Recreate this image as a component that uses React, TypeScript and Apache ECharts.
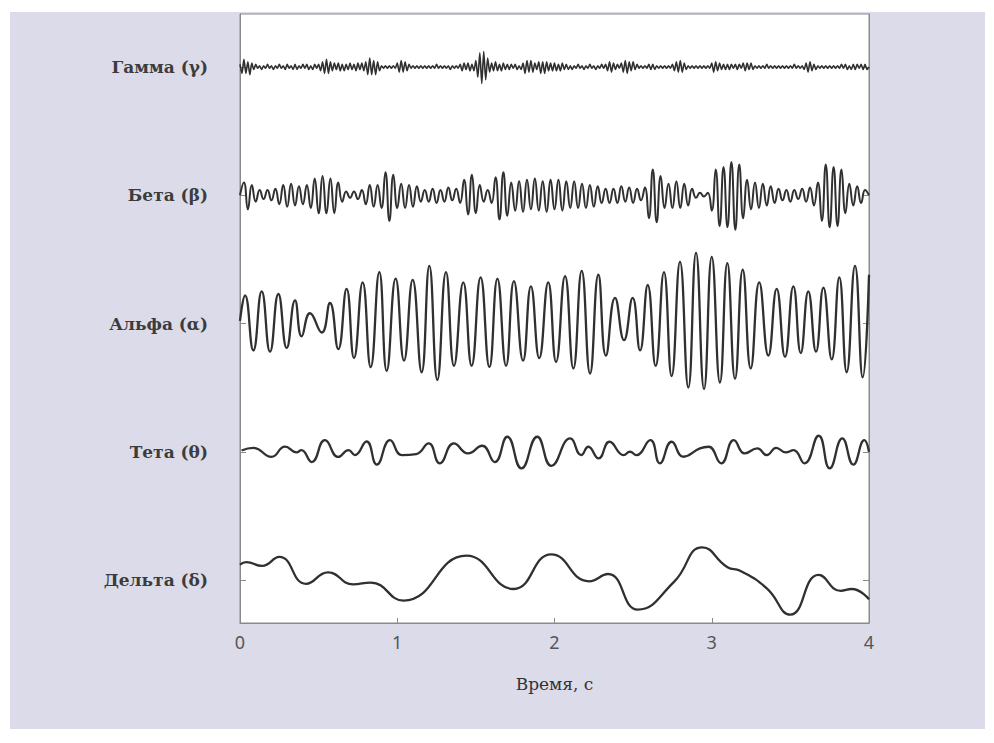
import React, { useEffect, useRef } from "react";
import * as echarts from "echarts";

// Band names (bottom → top), tick positions on the y axis
const BAND_LABELS = ["Дельта (δ)", "Тета (θ)", "Альфа (α)", "Бета (β)", "Гамма (γ)"];
const BAND_TICKS = [1, 2, 3, 4, 5];
const X_TICKS = [0, 1, 2, 3, 4];
const X_NAME = "Время, с";

// Amplitudes are in hundredths of the band spacing.
// Gamma: extrema sampled every 0.0125 s
const GAMMA_DT = 0.0125;
const GAMMA = [
  2, -5, 6, -5, 4, -6, 3, -2,
  2, -1, 1, -2, 1, -1, 2, -1,
  1, -2, 1, -1, 2, -1, 1, -2,
  2, -1, 1, -2, 2, -2, 1, -1,
  2, -1, 2, -2, 1, -2, 2, -1,
  2, -3, 4, -5, 6, -5, 4, -3,
  3, -2, 3, -3, 2, -3, 2, -2,
  3, -2, 2, -3, 3, -2, 3, -3,
  4, -6, 7, -6, 5, -6, 4, -3,
  1, -1, 1, -1, 1, -1, 1, -1,
  3, -4, 5, -4, 4, -3, 2, -1,
  1, -1, 1, -1, 1, -1, 1, -1,
  1, -1, 1, -1, 2, -1, 1, -1,
  1, -1, 1, -2, 1, -1, 1, -1,
  2, -3, 3, -2, 3, -3, 2, -3,
  5, -8, 11, -13, 12, -10, 7, -4,
  3, -3, 4, -3, 2, -3, 3, -2,
  2, -2, 2, -1, 2, -2, 1, -2,
  3, -5, 5, -4, 5, -4, 3, -2,
  4, -5, 4, -5, 4, -3, 3, -3,
  3, -3, 2, -3, 3, -2, 2, -2,
  1, -2, 1, -1, 2, -1, 1, -2,
  1, -1, 2, -1, 1, -2, 1, -1,
  2, -1, 2, -3, 4, -4, 3, -2,
  2, -1, 3, -4, 5, -5, 4, -3,
  4, -2, 2, -1, 1, -1, 1, -1,
  2, -2, 2, -2, 1, -1, 1, -1,
  1, -1, 1, -1, 2, -3, 4, -4,
  5, -4, 3, -2, 1, -1, 1, -1,
  1, -1, 1, -1, 1, -1, 1, -1,
  3, -4, 4, -3, 3, -2, 2, -2,
  2, -2, 2, -1, 2, -2, 2, -1,
  3, -3, 3, -2, 3, -2, 1, -1,
  1, -1, 1, -1, 2, -1, 1, -1,
  1, -1, 1, -1, 1, -1, 1, -1,
  1, -1, 2, -1, 1, -1, 1, -2,
  3, -4, 4, -3, 2, -2, 1, -1,
  1, -1, 1, -1, 1, -1, 1, -1,
  1, -1, 2, -1, 2, -2, 1, -2,
  2, -2, 2, -1, 2, -2, 2, -2,
  0,
];

// Beta: extrema sampled every 0.025 s
const BETA_DT = 0.025;
const BETA = [
  0, 10, -11, 8, -5, 4, -3, 4,
  -4, 5, -7, 8, -9, 9, -8, 7,
  -7, 8, -10, 13, -14, 15, -14, 13,
  -14, 10, -5, 3, -2, 3, -3, 4,
  -7, 8, -9, 8, -10, 18, -20, 16,
  -10, 9, -10, 8, -9, 7, -5, 4,
  -5, 5, -6, 4, -5, 6, -4, 5,
  -6, 12, -15, 16, -14, 8, -5, 4,
  -6, 14, -19, 18, -16, 10, -12, 11,
  -13, 12, -11, 13, -12, 11, -13, 12,
  -11, 12, -12, 11, -10, 11, -10, 9,
  -10, 8, -9, 7, -6, 5, -6, 5,
  -6, 7, -5, 6, -6, 5, -4, 6,
  -18, 20, -21, 15, -10, 9, -10, 11,
  -10, 9, -8, 5, -2, 2, -1, 2,
  -12, 20, -24, 22, -25, 26, -27, 24,
  -18, 12, -11, 10, -10, 9, -8, 7,
  -6, 5, -4, 4, -5, 4, -3, 5,
  -5, 6, -8, 10, -20, 24, -25, 22,
  -24, 20, -14, 9, -8, 7, -6, 4,
  0,
];

// Alpha: [time s, amplitude] at each extremum
const ALPHA: [number, number][] = [
  [0.0, 2], [0.032, 22], [0.085, -21], [0.138, 25], [0.191, -22], [0.244, 23], [0.297, -19],
  [0.35, 18], [0.392, -10], [0.445, 8], [0.52, -7], [0.572, 16], [0.625, -20], [0.678, 27],
  [0.725, -27], [0.78, 32], [0.831, -34], [0.886, 40], [0.933, -37], [0.99, 35], [1.043, -29],
  [1.098, 34], [1.155, -38], [1.204, 45], [1.255, -44], [1.31, 40], [1.361, -33], [1.42, 32],
  [1.473, -33], [1.53, 36], [1.586, -34], [1.637, 35], [1.692, -33], [1.742, 33], [1.8, -29],
  [1.85, 29], [1.903, -27], [1.96, 32], [2.01, -30], [2.067, 37], [2.12, -35], [2.173, 41],
  [2.226, -39], [2.279, 38], [2.327, -25], [2.385, 20], [2.442, -13], [2.497, 20], [2.544, -21],
  [2.593, 30], [2.643, -33], [2.696, 40], [2.745, -41], [2.798, 48], [2.851, -50], [2.9, 55],
  [2.951, -51], [3.0, 52], [3.052, -46], [3.099, 47], [3.148, -43], [3.197, 42], [3.248, -35],
  [3.302, 32], [3.36, -25], [3.413, 27], [3.466, -26], [3.519, 29], [3.566, -23], [3.614, 25],
  [3.663, -22], [3.71, 28], [3.763, -28], [3.811, 36], [3.858, -38], [3.911, 45], [3.96, -42],
  [4.0, 38],
];

// Theta: [time s, amplitude]
const THETA: [number, number][] = [
  [0.01, 1], [0.085, 3], [0.2, -4], [0.286, 4], [0.36, -0.5], [0.39, 1.3], [0.456, -8],
  [0.54, 9], [0.625, -4], [0.69, 1.3], [0.73, -2.6], [0.805, 8], [0.87, -10], [0.954, 9],
  [1.03, -2.6], [1.12, -1.8], [1.2, 6.5], [1.27, -9], [1.36, 6.5], [1.45, -1.3], [1.54, 4.7],
  [1.62, -8], [1.7, 11.7], [1.79, -13], [1.89, 11.7], [1.98, -11], [2.1, 10.4], [2.17, -2.6],
  [2.215, 3.9], [2.28, -5.2], [2.35, 7.8], [2.44, -2.6], [2.48, 0], [2.52, -2.6], [2.61, 9],
  [2.67, -9], [2.745, 7.8], [2.82, -3.9], [2.925, 2.6], [2.98, 3.9], [3.06, -9], [3.14, 9],
  [3.21, -1.3], [3.29, 2.6], [3.35, -2.6], [3.41, 3.1], [3.47, -0.5], [3.52, 1.3], [3.59, -9],
  [3.68, 12.5], [3.75, -13], [3.83, 10.4], [3.9, -10], [3.97, 9], [4.0, 0],
];

// Delta: [time s, amplitude]
const DELTA: [number, number][] = [
  [0.0, 12], [0.04, 14], [0.14, 11], [0.25, 18], [0.42, -3], [0.56, 6], [0.72, -3.4],
  [0.83, -2], [1.04, -16], [1.44, 19], [1.74, -7], [1.98, 20], [2.22, -1], [2.34, 4.7],
  [2.53, -23], [2.76, -1.4], [2.94, 25.5], [3.1, 10], [3.18, 7.3], [3.35, -6.5], [3.5, -27],
  [3.68, 4], [3.82, -8.4], [3.89, -7], [4.0, -15],
];

const uniform = (vals: number[], dt: number, center: number) =>
  vals.map((v, i) => [i * dt, center + v / 100]);
const pairs = (pts: [number, number][], center: number) =>
  pts.map(([t, v]) => [t, center + v / 100]);

const LINE = "#303030";
const AXIS = "#8a8a8a";

export default function App() {
  const ref = useRef<HTMLDivElement>(null);
  useEffect(() => {
    if (!ref.current) return;
    const chart = echarts.init(ref.current, null, { renderer: "svg" });
    const yMin = 0.665;
    const yMax = 5.413;
    const mk = (data: number[][], width: number, smooth: number | boolean) => ({
      type: "line",
      data,
      showSymbol: false,
      symbol: "none",
      smooth,
      silent: true,
      lineStyle: { color: LINE, width },
    });
    chart.setOption({
      animation: false,
      backgroundColor: "#ffffff",
      graphic: {
        elements: [
          {
            type: "rect",
            z: -10,
            shape: { x: 10, y: 12, width: 975, height: 717 },
            style: { fill: "#dcdbea" },
            silent: true,
          },
        ],
      },
      grid: {
        left: 240,
        right: 125,
        top: 14,
        bottom: 120,
        show: true,
        backgroundColor: "#ffffff",
        borderColor: AXIS,
        borderWidth: 1,
      },
      xAxis: {
        type: "value",
        min: 0,
        max: 4,
        interval: 1,
        name: X_NAME,
        nameLocation: "middle",
        nameGap: 52,
        nameTextStyle: { fontFamily: "DejaVu Serif", fontSize: 17, color: "#333" },
        axisLine: { show: true, lineStyle: { color: AXIS } },
        axisTick: { show: true, inside: true, length: 5, lineStyle: { color: AXIS } },
        axisLabel: {
          margin: 10,
          fontFamily: "Noto Sans",
          fontSize: 18,
          color: "#555",
          formatter: (v: number) => (X_TICKS.includes(v) ? String(v) : ""),
        },
        splitLine: { show: false },
      },
      yAxis: [
        {
          type: "value",
          min: yMin,
          max: yMax,
          axisLine: { show: true, lineStyle: { color: AXIS } },
          axisTick: {
            show: true,
            inside: true,
            length: 6,
            customValues: BAND_TICKS,
            lineStyle: { color: AXIS },
          },
          axisLabel: {
            customValues: BAND_TICKS,
            margin: 32,
            fontFamily: "DejaVu Serif",
            fontWeight: "bold",
            fontSize: 17,
            color: "#3c3c3c",
            formatter: (v: number) => BAND_LABELS[Math.round(v) - 1] ?? "",
          },
          splitLine: { show: false },
        },
        {
          type: "value",
          position: "right",
          min: yMin,
          max: yMax,
          axisLine: { show: true, lineStyle: { color: AXIS } },
          axisTick: {
            show: true,
            inside: true,
            length: 6,
            customValues: BAND_TICKS,
            lineStyle: { color: AXIS },
          },
          axisLabel: { show: false },
          splitLine: { show: false },
        },
      ],
      series: [
        mk(uniform(GAMMA, GAMMA_DT, 5), 1.6, 0.2),
        mk(uniform(BETA, BETA_DT, 4), 2, 0.5),
        mk(pairs(ALPHA, 3), 2.3, 0.5),
        mk(pairs(THETA, 2), 2.3, 0.5),
        mk(pairs(DELTA, 1), 2.3, 0.5),
      ],
    });
    return () => chart.dispose();
  }, []);
  return (
    <div
      ref={ref}
      style={{ position: "fixed", left: 0, top: 0, width: 994, height: 743 }}
    />
  );
}
